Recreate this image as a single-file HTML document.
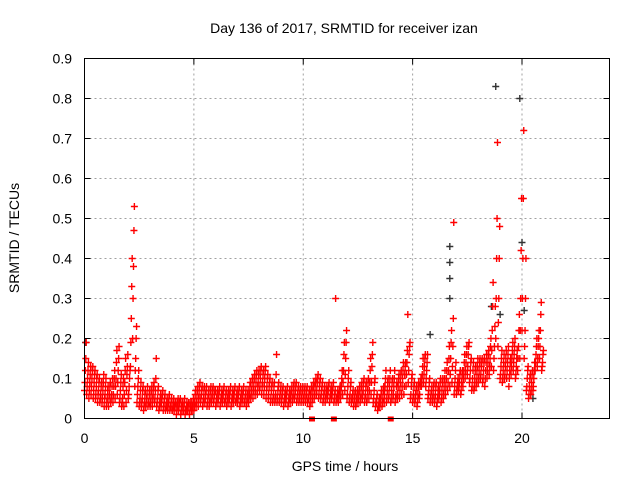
<!DOCTYPE html>
<html><head><meta charset="utf-8"><style>
body{margin:0;background:#fff}
svg{display:block;font-family:"Liberation Sans",sans-serif}
</style></head><body>
<svg id="chart" width="640" height="480">
<rect width="640" height="480" fill="#fff"/>
<text x="344" y="33" font-size="14" text-anchor="middle">Day 136 of 2017, SRMTID for receiver izan</text>
<text x="345" y="471" font-size="14" text-anchor="middle">GPS time / hours</text>
<text transform="translate(19,238) rotate(-90)" font-size="14" text-anchor="middle">SRMTID / TECUs</text>
<g id="grid"></g><g id="ticks"></g><g id="marks"></g>
<rect x="84.5" y="58.5" width="525" height="360" fill="none" stroke="#000"/>
</svg>
<script>
const xTicks=[0,5,10,15,20];
const yTicks=[0,0.1,0.2,0.3,0.4,0.5,0.6,0.7,0.8,0.9];
const yTickLabels=["0","0.1","0.2","0.3","0.4","0.5","0.6","0.7","0.8","0.9"];
const startHour=0, stepHour=0.1;
const vLow=[0.07,0.06,0.05,0.06,0.05,0.05,0.04,0.04,0.04,0.03,
0.03,0.03,0.04,0.04,0.05,0.06,0.04,0.03,0.03,0.04,
0.05,0.13,0.20,0.08,0.04,0.03,0.03,0.02,0.03,0.03,
0.03,0.03,0.04,0.03,0.02,0.03,0.02,0.02,0.02,0.02,
0.02,0.02,0.01,0.02,0.01,0.02,0.01,0.02,0.01,0.02,
0.02,0.03,0.03,0.04,0.03,0.04,0.03,0.03,0.04,0.04,
0.03,0.04,0.03,0.04,0.04,0.03,0.04,0.03,0.04,0.04,
0.04,0.03,0.04,0.04,0.03,0.04,0.05,0.05,0.06,0.06,
0.07,0.06,0.06,0.05,0.05,0.04,0.04,0.04,0.04,0.04,
0.04,0.03,0.04,0.03,0.04,0.04,0.05,0.04,0.04,0.04,
0.04,0.04,0.04,0.03,0.04,0.05,0.06,0.05,0.05,0.04,
0.04,0.05,0.04,0.05,0.04,0.04,0.04,0.05,0.06,0.07,
0.05,0.04,0.04,0.03,0.03,0.04,0.04,0.05,0.04,0.04,
0.05,0.06,0.04,0.03,0.02,0.03,0.03,0.04,0.04,0.05,
0.04,0.05,0.04,0.05,0.05,0.06,0.06,0.08,0.09,0.05,
0.04,0.04,0.03,0.05,0.08,0.09,0.08,0.05,0.04,0.04,
0.04,0.03,0.05,0.04,0.05,0.06,0.07,0.08,0.09,0.06,
0.06,0.07,0.06,0.08,0.10,0.11,0.09,0.07,0.07,0.08,
0.09,0.10,0.09,0.08,0.10,0.11,0.13,0.12,0.20,0.18,
0.10,0.09,0.10,0.10,0.08,0.11,0.12,0.10,0.12,0.15,
0.22,0.15,0.07,0.05,0.06,0.07,0.12,0.13,0.15,0.12];
const vQ1=[0.09,0.08,0.07,0.08,0.07,0.06,0.06,0.05,0.05,0.05,
0.04,0.05,0.05,0.06,0.08,0.09,0.05,0.04,0.06,0.07,
0.06,0.19,0.30,0.12,0.06,0.04,0.04,0.03,0.04,0.04,
0.04,0.05,0.05,0.04,0.03,0.04,0.03,0.03,0.03,0.03,
0.02,0.03,0.02,0.03,0.02,0.02,0.02,0.02,0.02,0.02,
0.03,0.04,0.05,0.05,0.04,0.05,0.04,0.04,0.05,0.05,
0.04,0.05,0.04,0.05,0.04,0.04,0.05,0.04,0.05,0.04,
0.05,0.04,0.05,0.04,0.04,0.05,0.06,0.07,0.07,0.08,
0.08,0.08,0.08,0.07,0.06,0.05,0.05,0.05,0.05,0.05,
0.05,0.04,0.05,0.04,0.05,0.05,0.06,0.05,0.05,0.05,
0.05,0.05,0.05,0.04,0.05,0.06,0.07,0.06,0.06,0.05,
0.05,0.06,0.05,0.06,0.05,0.05,0.05,0.06,0.09,0.11,
0.06,0.05,0.05,0.04,0.04,0.05,0.05,0.06,0.05,0.05,
0.07,0.09,0.05,0.04,0.03,0.04,0.04,0.06,0.05,0.06,
0.05,0.06,0.05,0.06,0.07,0.08,0.08,0.11,0.12,0.06,
0.05,0.05,0.04,0.06,0.09,0.11,0.10,0.06,0.05,0.05,
0.05,0.04,0.06,0.05,0.06,0.08,0.09,0.11,0.13,0.08,
0.07,0.08,0.07,0.10,0.12,0.13,0.10,0.08,0.08,0.09,
0.10,0.11,0.10,0.10,0.12,0.13,0.17,0.15,0.30,0.24,
0.11,0.10,0.11,0.12,0.10,0.13,0.14,0.11,0.15,0.22,
0.30,0.18,0.08,0.06,0.07,0.08,0.14,0.15,0.18,0.13];
const vMid=[0.12,0.10,0.09,0.10,0.09,0.08,0.07,0.06,0.07,0.06,
0.05,0.06,0.06,0.08,0.10,0.12,0.07,0.05,0.09,0.11,
0.08,0.25,0.38,0.15,0.08,0.05,0.05,0.04,0.05,0.04,
0.05,0.06,0.07,0.05,0.04,0.05,0.04,0.03,0.04,0.03,
0.03,0.03,0.03,0.04,0.03,0.03,0.02,0.03,0.03,0.03,
0.04,0.05,0.06,0.06,0.05,0.06,0.05,0.05,0.06,0.06,
0.05,0.06,0.05,0.06,0.05,0.05,0.06,0.05,0.06,0.05,
0.06,0.05,0.06,0.05,0.05,0.06,0.07,0.08,0.09,0.09,
0.10,0.09,0.10,0.08,0.08,0.07,0.06,0.06,0.07,0.06,
0.06,0.05,0.06,0.05,0.06,0.06,0.07,0.06,0.06,0.06,
0.06,0.06,0.05,0.06,0.07,0.08,0.09,0.08,0.07,0.06,
0.06,0.07,0.06,0.07,0.06,0.05,0.06,0.08,0.12,0.15,
0.08,0.06,0.05,0.05,0.05,0.06,0.06,0.07,0.06,0.07,
0.09,0.13,0.07,0.04,0.03,0.05,0.05,0.08,0.07,0.08,
0.07,0.08,0.06,0.08,0.09,0.10,0.11,0.14,0.16,0.08,
0.06,0.06,0.06,0.08,0.11,0.13,0.12,0.07,0.06,0.06,
0.06,0.05,0.07,0.07,0.08,0.10,0.12,0.15,0.18,0.10,
0.08,0.09,0.09,0.12,0.14,0.16,0.12,0.10,0.10,0.11,
0.12,0.13,0.12,0.12,0.14,0.15,0.22,0.18,0.40,0.30,
0.13,0.12,0.13,0.14,0.12,0.15,0.16,0.13,0.18,0.30,
0.40,0.22,0.10,0.08,0.09,0.10,0.16,0.18,0.22,0.14];
const vQ3=[0.15,0.12,0.11,0.12,0.11,0.10,0.09,0.08,0.09,0.08,
0.07,0.08,0.08,0.10,0.14,0.15,0.09,0.08,0.12,0.13,
0.10,0.33,0.47,0.20,0.10,0.07,0.07,0.06,0.06,0.06,
0.07,0.08,0.10,0.07,0.05,0.06,0.05,0.04,0.05,0.04,
0.04,0.04,0.04,0.04,0.04,0.04,0.03,0.04,0.04,0.04,
0.06,0.07,0.08,0.07,0.07,0.07,0.06,0.07,0.07,0.07,
0.06,0.07,0.06,0.07,0.06,0.06,0.07,0.06,0.07,0.06,
0.07,0.06,0.07,0.06,0.06,0.08,0.09,0.10,0.11,0.11,
0.12,0.11,0.12,0.10,0.09,0.08,0.08,0.11,0.08,0.07,
0.07,0.06,0.07,0.06,0.07,0.08,0.08,0.07,0.07,0.07,
0.07,0.07,0.06,0.07,0.08,0.09,0.10,0.09,0.08,0.07,
0.07,0.08,0.07,0.08,0.07,0.06,0.07,0.10,0.16,0.19,
0.10,0.08,0.06,0.06,0.06,0.07,0.08,0.09,0.08,0.09,
0.12,0.16,0.09,0.05,0.04,0.06,0.07,0.10,0.09,0.10,
0.09,0.10,0.08,0.10,0.11,0.12,0.13,0.17,0.18,0.10,
0.08,0.07,0.08,0.09,0.13,0.15,0.14,0.09,0.07,0.08,
0.08,0.07,0.09,0.09,0.10,0.12,0.15,0.19,0.25,0.12,
0.09,0.11,0.11,0.14,0.16,0.18,0.14,0.12,0.12,0.13,
0.14,0.14,0.14,0.14,0.16,0.18,0.28,0.23,0.50,0.40,
0.15,0.14,0.15,0.16,0.14,0.17,0.18,0.15,0.22,0.42,
0.55,0.30,0.12,0.10,0.11,0.12,0.18,0.20,0.26,0.16];
const vHigh=[0.19,0.14,0.13,0.13,0.12,0.11,0.10,0.09,0.11,0.10,
0.08,0.09,0.10,0.12,0.17,0.18,0.11,0.10,0.15,0.16,
0.12,0.40,0.53,0.23,0.12,0.09,0.08,0.07,0.08,0.07,
0.08,0.09,0.15,0.08,0.06,0.07,0.06,0.05,0.06,0.05,
0.05,0.04,0.05,0.05,0.04,0.05,0.04,0.04,0.04,0.05,
0.07,0.08,0.09,0.08,0.08,0.08,0.07,0.08,0.08,0.07,
0.07,0.08,0.07,0.08,0.07,0.07,0.08,0.07,0.08,0.07,
0.08,0.07,0.08,0.07,0.07,0.09,0.10,0.11,0.12,0.12,
0.13,0.12,0.13,0.11,0.10,0.09,0.09,0.16,0.09,0.08,
0.08,0.07,0.08,0.07,0.08,0.09,0.09,0.08,0.08,0.08,
0.08,0.08,0.07,0.08,0.09,0.10,0.11,0.10,0.09,0.08,
0.08,0.09,0.08,0.09,0.30,0.07,0.08,0.12,0.19,0.22,
0.12,0.09,0.07,0.07,0.07,0.08,0.09,0.10,0.09,0.10,
0.15,0.19,0.10,0.06,0.05,0.07,0.08,0.12,0.10,0.12,
0.10,0.12,0.09,0.11,0.12,0.14,0.14,0.26,0.19,0.11,
0.09,0.08,0.09,0.10,0.15,0.16,0.16,0.10,0.08,0.09,
0.09,0.08,0.10,0.10,0.12,0.14,0.18,0.22,0.49,0.14,
0.10,0.12,0.12,0.16,0.18,0.19,0.15,0.14,0.13,0.15,
0.15,0.15,0.15,0.16,0.17,0.20,0.34,0.28,0.69,0.48,
0.17,0.16,0.17,0.18,0.15,0.19,0.20,0.17,0.26,0.55,
0.72,0.40,0.13,0.11,0.12,0.14,0.20,0.22,0.29,0.17];
const grayHours=[16.7,16.7,16.7,16.7,18.8,19.9,18.6,19.0,20.0,20.1,15.8,20.5,0.05];
const grayVals=[0.43,0.39,0.35,0.30,0.83,0.80,0.28,0.26,0.44,0.27,0.21,0.05,0.19];
const zeroHours=[10.4,11.4,14.0];

const NS="http://www.w3.org/2000/svg";
const X0=84.5,XW=525,XMAX=24,Y0=418.5,YH=360,YMAX=0.9;
function xs(h){return X0+h/XMAX*XW;}
function ys(v){return Y0-v/YMAX*YH;}
function mk(tag,attrs,parent){const e=document.createElementNS(NS,tag);for(const k in attrs)e.setAttribute(k,attrs[k]);parent.appendChild(e);return e;}
const grid=document.getElementById('grid'),ticks=document.getElementById('ticks'),marks=document.getElementById('marks');
yTicks.forEach((v,i)=>{
  const y=ys(v);
  if(i>0&&i<yTicks.length-1){const g=mk('line',{x1:X0,x2:X0+XW,y1:y,y2:y,stroke:'#a0a0a0','stroke-dasharray':'2,3'},grid);
  
  }
  const t=mk('line',{x1:X0,x2:X0+6,y1:y,y2:y,stroke:'#000'},ticks);
  
  
  mk('line',{x1:X0+XW-6,x2:X0+XW,y1:y,y2:y,stroke:'#000'},ticks);
  const l=mk('text',{x:72,y:y+5,'font-size':14,'text-anchor':'end'},ticks);l.textContent=yTickLabels[i];
  
  
});
xTicks.forEach(h=>{
  const x=xs(h);
  if(h>0){const g=mk('line',{x1:x,x2:x,y1:Y0-YH,y2:Y0,stroke:'#a0a0a0','stroke-dasharray':'2,3'},grid);
  
  }
  const t=mk('line',{x1:x,x2:x,y1:Y0,y2:Y0-6,stroke:'#000'},ticks);
  
  
  mk('line',{x1:x,x2:x,y1:Y0-YH,y2:Y0-YH+6,stroke:'#000'},ticks);
  const l=mk('text',{x:x,y:443,'font-size':14,'text-anchor':'middle'},ticks);l.textContent=String(h);
  
  
});
function plus(h,v,color,name){
  const x=xs(h),y=ys(v);
  const p=mk('path',{d:`M${x-3.5} ${y}H${x+3.5}M${x} ${y-3.5}V${y+3.5}`,stroke:color,'stroke-width':1.4,fill:'none'},marks);
  
  
}
grayHours.forEach((h,i)=>plus(h,grayVals[i],'#333','gray-point'));
const series=[[vLow,0],[vQ1,0.02],[vMid,0.04],[vQ3,0.06],[vHigh,0.08]];
series.forEach(([arr,off])=>arr.forEach((v,i)=>plus(startHour+i*stepHour+off,v,'#ff0000','srmtid-point')));
zeroHours.forEach(h=>{
  const r=mk('rect',{x:xs(h)-3,y:Y0-2,width:6,height:5,fill:'#ff0000'},marks);
  
  
});
</script>
</body></html>
